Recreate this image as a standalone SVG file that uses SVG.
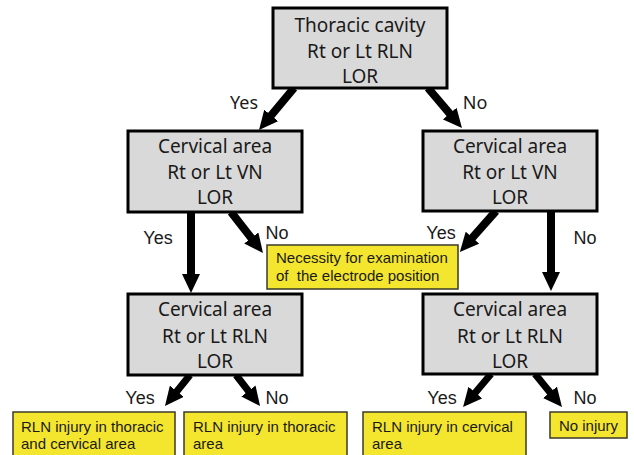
<svg xmlns="http://www.w3.org/2000/svg" width="634" height="455" viewBox="0 0 634 455">
<style>
.q{fill:#d9d9d9;stroke:#000;stroke-width:3}
.y{fill:#f4e62e;stroke:#3a3a2a;stroke-width:1.5}
.qt{font-family:"Noto Sans","Open Sans",sans-serif;font-size:19px;fill:#1a1a1a;text-anchor:middle}
.yt{font-family:"Liberation Sans",Arial,sans-serif;font-size:15px;fill:#1a1a1a}
.lc{font-family:"Noto Sans","Open Sans",sans-serif;font-size:18px;fill:#1a1a1a;text-anchor:middle}
.la{font-family:"Liberation Sans",Arial,sans-serif;font-size:18px;fill:#1a1a1a;text-anchor:middle}
.ar{stroke:#000;stroke-width:8;fill:none;marker-end:url(#h)}
</style>
<defs>
<marker id="h" markerUnits="userSpaceOnUse" markerWidth="19" markerHeight="18" viewBox="0 0 19 18" refX="7" refY="9" orient="auto">
<path d="M0,0 L19,9 L0,18 Z" fill="#000"/>
</marker>
</defs>
<rect width="634" height="455" fill="#fff"/>
<g id="connectors">
<line class="ar" x1="294" y1="88" x2="266.7" y2="120.8"/>
<line class="ar" x1="428" y1="88" x2="454.2" y2="118.9"/>
<line class="ar" x1="191" y1="212" x2="191" y2="281"/>
<line class="ar" x1="231" y1="212" x2="255.6" y2="243.5"/>
<line class="ar" x1="496" y1="211" x2="467.8" y2="242.9"/>
<line class="ar" x1="551" y1="211" x2="551" y2="279"/>
<line class="ar" x1="190" y1="375" x2="172.5" y2="396.7" style="stroke-width:7"/>
<line class="ar" x1="236" y1="375" x2="252.7" y2="396.5" style="stroke-width:7"/>
<line class="ar" x1="491" y1="374" x2="470.8" y2="397.9" style="stroke-width:7"/>
<line class="ar" x1="535" y1="374" x2="554.4" y2="397.7" style="stroke-width:7"/>
<text class="lc" x="244" y="109">Yes</text>
<text class="lc" x="475" y="109">No</text>
<text class="la" x="158" y="244">Yes</text>
<text class="la" x="277" y="239">No</text>
<text class="la" x="441" y="239">Yes</text>
<text class="la" x="585" y="244">No</text>
<text class="la" x="140" y="404">Yes</text>
<text class="la" x="277" y="404">No</text>
<text class="la" x="442" y="404">Yes</text>
<text class="la" x="585" y="404">No</text>
</g>
<g id="n-thoracic">
<rect class="q" x="273" y="8" width="174" height="80"/>
<text class="qt" x="360" y="32">Thoracic cavity</text>
<text class="qt" x="360" y="58">Rt or Lt RLN</text>
<text class="qt" x="360" y="83">LOR</text>
</g>
<g id="n-vn-left">
<rect class="q" x="128" y="131" width="174" height="81"/>
<text class="qt" x="215" y="153">Cervical area</text>
<text class="qt" x="215" y="179">Rt or Lt VN</text>
<text class="qt" x="215" y="204">LOR</text>
</g>
<g id="n-vn-right">
<rect class="q" x="423" y="131" width="174" height="80"/>
<text class="qt" x="510" y="153">Cervical area</text>
<text class="qt" x="510" y="179">Rt or Lt VN</text>
<text class="qt" x="510" y="204">LOR</text>
</g>
<g id="n-rln-left">
<rect class="q" x="128" y="294" width="174" height="81"/>
<text class="qt" x="215" y="316">Cervical area</text>
<text class="qt" x="215" y="343">Rt or Lt RLN</text>
<text class="qt" x="215" y="368">LOR</text>
</g>
<g id="n-rln-right">
<rect class="q" x="423" y="294" width="174" height="80"/>
<text class="qt" x="510" y="316">Cervical area</text>
<text class="qt" x="510" y="343">Rt or Lt RLN</text>
<text class="qt" x="510" y="368">LOR</text>
</g>
<g id="n-necessity">
<rect class="y" x="267" y="245" width="191" height="44"/>
<text class="yt" x="276" y="263">Necessity for examination</text>
<text class="yt" x="276" y="281" xml:space="preserve">of  the electrode position</text>
</g>
<g id="n-both">
<rect class="y" x="13" y="412" width="162" height="50"/>
<text class="yt" x="21" y="432">RLN injury in thoracic</text>
<text class="yt" x="21" y="449">and cervical area</text>
</g>
<g id="n-thoracic-only">
<rect class="y" x="184" y="412" width="163" height="50"/>
<text class="yt" x="193" y="432">RLN injury in thoracic</text>
<text class="yt" x="193" y="449">area</text>
</g>
<g id="n-cervical">
<rect class="y" x="363" y="412" width="163" height="50"/>
<text class="yt" x="372" y="432">RLN injury in cervical</text>
<text class="yt" x="372" y="449">area</text>
</g>
<g id="n-none">
<rect class="y" x="550" y="412" width="77" height="26"/>
<text class="yt" x="588.5" y="431" style="text-anchor:middle">No injury</text>
</g>
</svg>
